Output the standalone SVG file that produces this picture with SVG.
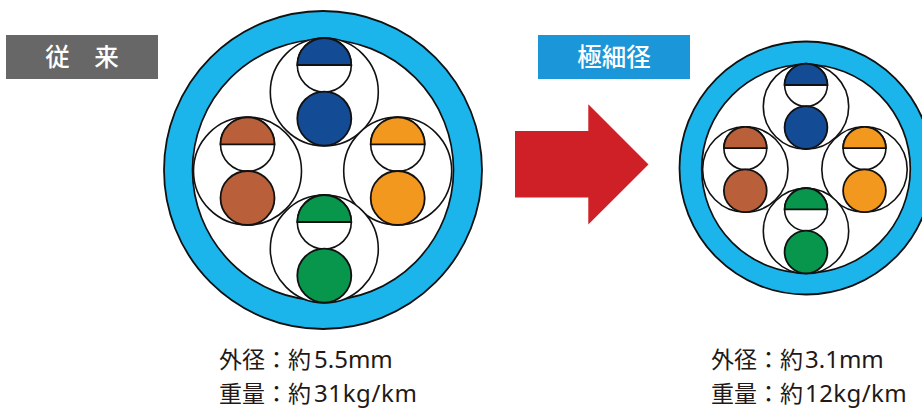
<svg xmlns="http://www.w3.org/2000/svg" width="922" height="411" viewBox="0 0 922 411">
<style>
.l{stroke:#111;stroke-width:1.7;fill:#fff}
.w{stroke:#111;stroke-width:1.6;fill:#fff}
.t{font-family:"Noto Sans","Noto Sans CJK JP",sans-serif;font-size:23px;fill:#231815}
.n{font-size:24px}
.h{font-family:"Noto Sans CJK JP","Noto Sans",sans-serif;font-size:24.5px;font-weight:500;fill:#fff;text-anchor:middle}
.blue{fill:#134b94}.brown{fill:#b9603a}.orange{fill:#f3981f}.green{fill:#07964b}
.s{stroke:#111;stroke-width:1.8}
</style>
<g id="label-old"><rect x="6" y="35" width="152" height="44" fill="#676767"/><text class="h" x="82" y="66">従　来</text></g>
<g id="label-new"><rect x="538" y="35" width="152" height="44" fill="#1b96d8"/><text class="h" x="614" y="66">極細径</text></g>
<g id="arrow"><polygon points="515,131 588.3,131 588.3,104.3 648.5,164.5 588.3,224.5 588.3,197.5 515,197.5" fill="#d02027"/></g>

<g id="cable-old">
<circle class="s" cx="323" cy="170" r="159" fill="#1bb5ec"/>
<circle class="l" cx="323" cy="170" r="130.5"/>
<g id="old-blue"><circle class="w" cx="324.3" cy="92" r="54"/><circle class="w" cx="324.3" cy="65" r="27"/><path class="blue s" d="M297.3 65a27 27 0 0 1 54 0z"/><circle class="blue s" cx="324.3" cy="118.6" r="27"/></g>
<g id="old-brown"><circle class="w" cx="247.5" cy="171" r="54"/><circle class="w" cx="247.5" cy="144.3" r="27"/><path class="brown s" d="M220.5 144.3a27 27 0 0 1 54 0z"/><circle class="brown s" cx="247.5" cy="198" r="27"/></g>
<g id="old-orange"><circle class="w" cx="397.7" cy="171" r="54"/><circle class="w" cx="397.7" cy="144.3" r="27"/><path class="orange s" d="M370.7 144.3a27 27 0 0 1 54 0z"/><circle class="orange s" cx="397.7" cy="198" r="27"/></g>
<g id="old-green"><circle class="w" cx="324.3" cy="249" r="54"/><circle class="w" cx="324.3" cy="222" r="27"/><path class="green s" d="M297.3 222a27 27 0 0 1 54 0z"/><circle class="green s" cx="324.3" cy="275.6" r="27"/></g>
</g>

<g id="cable-new">
<circle class="s" cx="806" cy="168" r="126.5" fill="#1bb5ec"/>
<circle class="l" cx="806" cy="168.8" r="104.3"/>
<g id="new-blue"><circle class="w" cx="806" cy="106.6" r="42.7"/><circle class="w" cx="806" cy="85" r="21.4"/><path class="blue s" d="M784.6 85a21.4 21.4 0 0 1 42.8 0z"/><circle class="blue s" cx="806" cy="127.6" r="21.4"/></g>
<g id="new-brown"><circle class="w" cx="745.3" cy="169.5" r="42.7"/><circle class="w" cx="745.3" cy="148.2" r="21.4"/><path class="brown s" d="M723.9 148.2a21.4 21.4 0 0 1 42.8 0z"/><circle class="brown s" cx="745.3" cy="190.8" r="21.4"/></g>
<g id="new-orange"><circle class="w" cx="864.5" cy="169.5" r="42.7"/><circle class="w" cx="864.5" cy="148.2" r="21.4"/><path class="orange s" d="M843.1 148.2a21.4 21.4 0 0 1 42.8 0z"/><circle class="orange s" cx="864.5" cy="190.8" r="21.4"/></g>
<g id="new-green"><circle class="w" cx="806" cy="231" r="42.7"/><circle class="w" cx="806" cy="209.4" r="21.4"/><path class="green s" d="M784.6 209.4a21.4 21.4 0 0 1 42.8 0z"/><circle class="green s" cx="806" cy="252" r="21.4"/></g>
</g>

<g id="spec-old"><text class="t" x="219" y="368">外径：約<tspan class="n" x="314">5.5mm</tspan></text><text class="t" x="219" y="402">重量：約<tspan class="n" x="314" letter-spacing="0.6">31kg/km</tspan></text></g>
<g id="spec-new"><text class="t" x="711" y="368">外径：約<tspan class="n" x="805">3.1mm</tspan></text><text class="t" x="711" y="402">重量：約<tspan class="n" x="805" letter-spacing="0.4">12kg/km</tspan></text></g>
</svg>
